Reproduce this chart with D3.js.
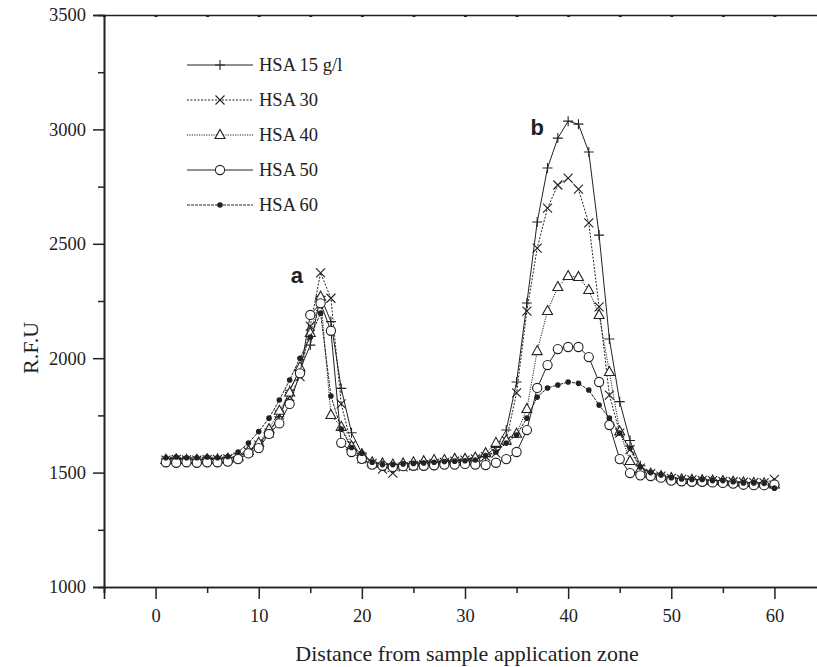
<!DOCTYPE html>
<html>
<head>
<meta charset="utf-8">
<script src="https://cdn.jsdelivr.net/npm/d3@7"></script>
<style>
  body { margin: 0; background: #fff; }
  svg { display: block; }
  text { font-family: "Liberation Serif", "Times New Roman", serif; fill: #222; }
</style>
</head>
<body>
<div id="chart"></div>
<script>
// distance (x) values
let distance = [1,2,3,4,5,6,7,8,9,10,11,12,13,14,15,16,17,18,19,20,
  21,22,23,24,25,26,27,28,29,30,31,32,33,34,35,36,37,38,39,40,
  41,42,43,44,45,46,47,48,49,50,51,52,53,54,55,56,57,58,59,60];

let hsa15 = [1560,1562,1560,1558,1560,1562,1565,1570,1590,1625,
  1679,1744,1860,1950,2057,2270,2160,1868,1674,1585,
  1545,1540,1535,1535,1540,1545,1548,1550,1555,1558,
  1565,1575,1610,1686,1896,2241,2595,2831,2962,3036,
  3023,2901,2538,2084,1810,1640,1530,1495,1485,1478,
  1473,1470,1468,1466,1464,1460,1457,1455,1452,1445];

let hsa30 = [1555,1558,1556,1555,1557,1558,1560,1568,1590,1620,
  1673,1752,1832,1919,2140,2373,2262,1800,1620,1560,
  1540,1515,1498,1525,1530,1535,1540,1545,1550,1555,
  1560,1570,1585,1640,1848,2206,2481,2656,2757,2787,
  2739,2591,2224,1839,1673,1600,1520,1495,1485,1475,
  1470,1468,1466,1465,1462,1460,1458,1456,1455,1470];

let hsa40 = [1555,1557,1555,1556,1558,1557,1560,1570,1595,1630,
  1690,1770,1850,1960,2110,2269,1752,1700,1615,1580,
  1545,1540,1535,1540,1545,1550,1555,1555,1560,1560,
  1565,1585,1630,1640,1670,1778,2031,2206,2311,2359,
  2355,2298,2189,1940,1680,1551,1515,1495,1485,1476,
  1470,1468,1467,1465,1463,1460,1457,1455,1453,1448];

let hsa50 = [1545,1543,1545,1543,1545,1545,1548,1559,1584,1607,
  1669,1715,1800,1934,2189,2240,2120,1630,1590,1560,
  1535,1530,1525,1528,1530,1530,1532,1535,1535,1538,
  1535,1533,1543,1559,1590,1686,1870,1970,2040,2049,
  2049,2005,1896,1708,1559,1498,1488,1485,1478,1465,
  1462,1460,1460,1457,1455,1452,1447,1445,1445,1448];

let hsa60 = [1565,1568,1565,1565,1568,1565,1570,1590,1629,1679,
  1738,1817,1905,2000,2092,2197,1835,1690,1610,1585,
  1545,1535,1535,1538,1540,1542,1545,1548,1550,1552,
  1555,1575,1590,1629,1664,1738,1830,1870,1883,1896,
  1890,1861,1795,1738,1673,1607,1525,1500,1490,1478,
  1472,1470,1470,1465,1465,1460,1455,1455,1453,1432];

let seriesNames = ["HSA 15 g/l", "HSA 30", "HSA 40", "HSA 50", "HSA 60"];
let seriesValues = [hsa15, hsa30, hsa40, hsa50, hsa60];
let markerTypes = ["plus", "cross", "triangle", "circle", "dot"];
let dashTypes = [null, "2,1.5", "1.2,1.2", null, "3,1"];

let xTicks = [0, 10, 20, 30, 40, 50, 60];
let yTicks = [1000, 1500, 2000, 2500, 3000, 3500];
let peakLabels = [{text: "a", x: 13.7, y: 2330}, {text: "b", x: 37.0, y: 2975}];

const width = 817, height = 667;
const svg = d3.select("#chart").append("svg")
    .attr("width", width)
    .attr("height", height);

let xscale = d3.scaleLinear().domain([-5, 65]).range([104, 826]);
let yscale = d3.scaleLinear().domain([1000, 3500]).range([587, 15]);

const ink = "#222";

// axes
let xaxis = d3.axisBottom(xscale).tickValues(xTicks).tickSize(12).tickPadding(10);
let xminor = d3.axisBottom(xscale).tickValues(d3.range(-5, 66, 5).filter(d => d % 10 !== 0)).tickSize(6).tickFormat("");
let yaxis = d3.axisLeft(yscale).tickValues(yTicks).tickSize(11).tickPadding(7).tickFormat(d3.format("d"));
let yminor = d3.axisLeft(yscale).tickValues([1250, 1750, 2250, 2750, 3250]).tickSize(6).tickFormat("");
let xtop = d3.axisTop(xscale).tickValues(d3.range(-5, 66, 5)).tickSizeInner(-2).tickSizeOuter(0).tickFormat("");

function styleAxis(g) {
  g.select(".domain").attr("stroke", ink).attr("stroke-width", 1.6);
  g.selectAll(".tick line").attr("stroke", ink).attr("stroke-width", 1.5);
  g.selectAll(".tick text").style("font-size", "18.5px").attr("fill", ink);
}

svg.append("g").attr("transform", "translate(0,587)").call(xaxis).call(styleAxis);
svg.append("g").attr("transform", "translate(0,587)").call(xminor).call(styleAxis);
svg.append("g").attr("transform", "translate(104,0)").call(yaxis).call(styleAxis);
svg.append("g").attr("transform", "translate(104,0)").call(yminor).call(styleAxis);
svg.append("g").attr("transform", "translate(0,15)").call(xtop).call(styleAxis)
    .selectAll(".tick line").attr("stroke-width", 3);

// axis titles
svg.append("text")
    .attr("x", 467).attr("y", 661)
    .attr("text-anchor", "middle")
    .style("font-size", "22px")
    .text("Distance from sample application zone");
svg.append("text")
    .attr("transform", "translate(38,348) rotate(-90)")
    .attr("text-anchor", "middle")
    .style("font-size", "22px")
    .text("R.F.U");

// marker drawing
function drawMarker(g, type, x, y) {
  if (type === "plus") {
    g.append("path").attr("d", `M${x-5},${y}H${x+5}M${x},${y-5}V${y+5}`)
        .attr("stroke", ink).attr("stroke-width", 1.1).attr("fill", "none");
  } else if (type === "cross") {
    g.append("path").attr("d", `M${x-4.5},${y-4.5}L${x+4.5},${y+4.5}M${x-4.5},${y+4.5}L${x+4.5},${y-4.5}`)
        .attr("stroke", ink).attr("stroke-width", 1.1).attr("fill", "none");
  } else if (type === "triangle") {
    g.append("path").attr("d", `M${x},${y-5.5}L${x+5},${y+3.5}L${x-5},${y+3.5}Z`)
        .attr("stroke", ink).attr("stroke-width", 1.1).attr("fill", "#fff");
  } else if (type === "circle") {
    g.append("circle").attr("cx", x).attr("cy", y).attr("r", 4.6)
        .attr("stroke", ink).attr("stroke-width", 1.1).attr("fill", "#fff");
  } else {
    g.append("circle").attr("cx", x).attr("cy", y).attr("r", 2.8).attr("fill", ink);
  }
}

let line = d3.line().x(d => xscale(d[0])).y(d => yscale(d[1]));

const plot = svg.append("g");
seriesValues.forEach(function(vals, i) {
  let pts = distance.map((d, j) => [d, vals[j]]);
  let g = plot.append("g");
  g.append("path")
      .datum(pts)
      .attr("d", line)
      .attr("fill", "none")
      .attr("stroke", ink)
      .attr("stroke-width", 1)
      .attr("stroke-dasharray", dashTypes[i]);
  pts.forEach(p => drawMarker(g, markerTypes[i], xscale(p[0]), yscale(p[1])));
});

// peak labels
svg.selectAll(".peak").data(peakLabels).enter().append("text")
    .attr("class", "peak")
    .attr("x", d => xscale(d.x))
    .attr("y", d => yscale(d.y))
    .attr("text-anchor", "middle")
    .style("font-family", "'Liberation Sans', Arial, sans-serif")
    .style("font-weight", "bold")
    .style("font-size", "22px")
    .text(d => d.text);

// legend
const legend = svg.append("g");
seriesNames.forEach(function(name, i) {
  let ly = 65 + i * 35;
  let lg = legend.append("g");
  lg.append("line")
      .attr("x1", 187).attr("x2", 253).attr("y1", ly).attr("y2", ly)
      .attr("stroke", ink).attr("stroke-width", 1)
      .attr("stroke-dasharray", dashTypes[i]);
  drawMarker(lg, markerTypes[i], 220, ly);
  lg.append("text")
      .attr("x", 259).attr("y", ly + 6)
      .style("font-size", "18.5px")
      .text(name);
});
</script>
</body>
</html>
